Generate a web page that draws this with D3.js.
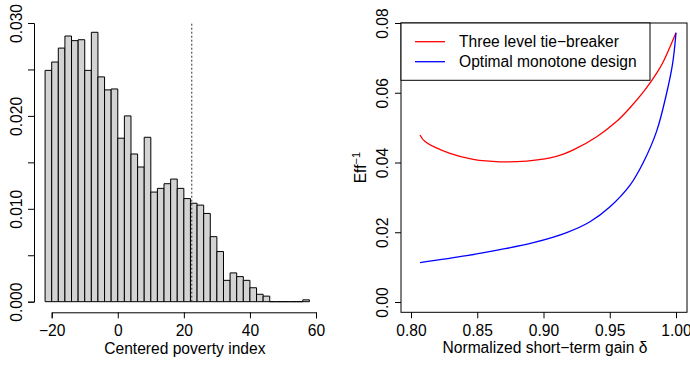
<!DOCTYPE html>
<html>
<head>
<meta charset="utf-8">
<script src="https://cdn.jsdelivr.net/npm/d3@7"></script>
<style>
  body { margin: 0; background: #fff; }
  svg text { font-family: "Liberation Sans", Arial, sans-serif; font-size: 15.6px; fill: #000; }
</style>
</head>
<body>
<svg id="chart" width="690" height="365"></svg>
<script>
// histogram: lower bin edges (width 2) and densities
const binStarts = [-22, -20, -18, -16, -14, -12, -10, -8, -6, -4, -2, 0, 2, 4, 6, 8, 10, 12, 14, 16,
  18, 20, 22, 24, 26, 28, 30, 32, 34, 36, 38, 40, 42, 44, 46, 48, 50, 52, 54, 56]
const densities = [0.0249, 0.0258, 0.0273, 0.0286, 0.0281, 0.0282, 0.0249, 0.0290, 0.0242, 0.0228,
  0.0229, 0.0176, 0.0200, 0.0159, 0.0145, 0.0177, 0.0118, 0.0122, 0.0127, 0.0132,
  0.0122, 0.0111, 0.0106, 0.0104, 0.0095, 0.0070, 0.0054, 0.0023, 0.0031, 0.0027,
  0.0023, 0.0015, 0.0008, 0.0006, 0, 0, 0, 0, 0, 0.0002]
const binWidth = 2
const cutoff = 22.4
const histXTicks = [-20, 0, 20, 40, 60]
const histYTicks = [0, 0.005, 0.01, 0.015, 0.02, 0.025, 0.03]

// efficiency curves
const tieDelta = [0.8068, 0.8106, 0.8294, 0.8470, 0.8672, 0.8873, 0.9049, 0.9150, 0.9225, 0.9402,
  0.9553, 0.9653, 0.9766, 0.9854, 0.9904, 1.0]
const tieEff = [0.0479, 0.0460, 0.0426, 0.0409, 0.0402, 0.0404, 0.0413, 0.0424, 0.0436, 0.0474,
  0.0518, 0.0557, 0.0608, 0.0656, 0.0689, 0.0772]
const optDelta = [0.8068, 0.8420, 0.8672, 0.8923, 0.9175, 0.9351, 0.9502, 0.9653, 0.9753, 0.9854,
  0.9930, 0.9975, 1.0]
const optEff = [0.0113, 0.0133, 0.0150, 0.0170, 0.0199, 0.0230, 0.0273, 0.0335, 0.0400, 0.0490,
  0.0600, 0.0685, 0.0772]
const effXTicks = [0.80, 0.85, 0.90, 0.95, 1.00]
const effYTicks = [0, 0.02, 0.04, 0.06, 0.08]
const legendLabels = ['Three level tie\u2212breaker', 'Optimal monotone design']
const curveColors = ['#ff0000', '#0000ff']

const svg = d3.select('#chart')

// ---------- left panel: histogram ----------
const xL = d3.scaleLinear().domain([-20, 60]).range([51.7, 316])
const yL = d3.scaleLinear().domain([0, 0.03]).range([301.7, 23])

const left = svg.append('g')

// paths rather than rects so empty bins still show as a line on the baseline
left.selectAll('path.bar')
  .data(binStarts.map((b, i) => ({ x0: b, d: densities[i] })))
  .enter().append('path')
    .attr('class', 'bar')
    .attr('d', d => {
      const x0 = xL(d.x0), x1 = xL(d.x0 + binWidth), y0 = yL(0), y1 = yL(d.d)
      return `M${x0},${y0}V${y1}H${x1}V${y0}Z`
    })
    .attr('fill', '#d3d3d3')
    .attr('stroke', '#000')
    .attr('stroke-width', 1)

left.append('line')
  .attr('x1', xL(cutoff)).attr('x2', xL(cutoff))
  .attr('y1', yL(0)).attr('y2', yL(0.03))
  .attr('stroke', '#333')
  .attr('stroke-width', 1)
  .attr('stroke-dasharray', '2,2')

left.append('g')
  .attr('transform', 'translate(0,312.3)')
  .call(d3.axisBottom(xL).tickValues(histXTicks).tickSizeOuter(0).tickSize(6).tickPadding(7)
    .tickFormat(d3.format('d')))

const ayL = left.append('g')
  .attr('transform', 'translate(34,0)')
  .call(d3.axisLeft(yL).tickValues(histYTicks).tickSizeOuter(0).tickSize(6)
    .tickFormat(d => (Math.round(d * 1000) % 10 === 0) ? d3.format('.3f')(d) : ''))
ayL.selectAll('text')
  .attr('x', null).attr('dy', null)
  .attr('transform', 'translate(-12,0) rotate(-90)')
  .attr('text-anchor', 'middle')

left.append('text')
  .attr('x', (xL.range()[0] + xL.range()[1]) / 2 + 1)
  .attr('y', 354)
  .attr('text-anchor', 'middle')
  .text('Centered poverty index')

// ---------- right panel: efficiency curves ----------
const xR = d3.scaleLinear().domain([0.8, 1.0]).range([411, 676])
const yR = d3.scaleLinear().domain([0, 0.08]).range([302, 23])

const right = svg.append('g')

const line = d3.line()
  .x(d => xR(d[0]))
  .y(d => yR(d[1]))
  .curve(d3.curveCatmullRom.alpha(0.5))

const series = [
  d3.zip(tieDelta, tieEff),
  d3.zip(optDelta, optEff),
]

right.selectAll('path.curve')
  .data(series)
  .enter().append('path')
    .attr('class', 'curve')
    .attr('d', line)
    .attr('fill', 'none')
    .attr('stroke', (d, i) => curveColors[i])
    .attr('stroke-width', 1.3)

const axR = right.append('g')
  .attr('transform', 'translate(0,312.3)')
  .call(d3.axisBottom(xR).tickValues(effXTicks).tickSize(6).tickPadding(7).tickFormat(d3.format('.2f')))
axR.select('.domain').remove()

const ayR = right.append('g')
  .attr('transform', 'translate(401,0)')
  .call(d3.axisLeft(yR).tickValues(effYTicks).tickSize(6).tickFormat(d3.format('.2f')))
ayR.select('.domain').remove()
ayR.selectAll('text')
  .attr('x', null).attr('dy', null)
  .attr('transform', 'translate(-13,0) rotate(-90)')
  .attr('text-anchor', 'middle')

// let the css font rule win over d3 axis defaults
svg.selectAll('.tick text').attr('fill', '#000')
svg.selectAll('.tick line, .domain').attr('stroke', '#000')
svg.selectAll('g[font-size]').attr('font-size', null).attr('font-family', null)

// plot box
right.append('rect')
  .attr('x', 401).attr('y', 23)
  .attr('width', 687 - 401).attr('height', 312.3 - 23)
  .attr('fill', 'none')
  .attr('stroke', '#000')

// legend
const legend = right.append('g')
legend.append('rect')
  .attr('x', 401).attr('y', 23)
  .attr('width', 650 - 401).attr('height', 80.3 - 23)
  .attr('fill', '#fff')
  .attr('stroke', '#000')

legendLabels.forEach((label, i) => {
  const y = 41.7 + i * 20
  legend.append('line')
    .attr('x1', 415).attr('x2', 445)
    .attr('y1', y).attr('y2', y)
    .attr('stroke', curveColors[i])
    .attr('stroke-width', 1.3)
  legend.append('text')
    .attr('x', 459).attr('y', y + 5.5)
    .text(label)
})

right.append('text')
  .attr('x', (xR.range()[0] + 687 - 10) / 2 + 1)
  .attr('y', 353)
  .attr('text-anchor', 'middle')
  .text('Normalized short\u2212term gain \u03b4')

const yLab = right.append('text')
  .attr('transform', `translate(365.5,${(23 + 312.3) / 2}) rotate(-90)`)
  .attr('text-anchor', 'middle')
yLab.append('tspan').text('Eff')
yLab.append('tspan').attr('dy', -6).attr('font-size', '11px').text('\u22121')
</script>
</body>
</html>
